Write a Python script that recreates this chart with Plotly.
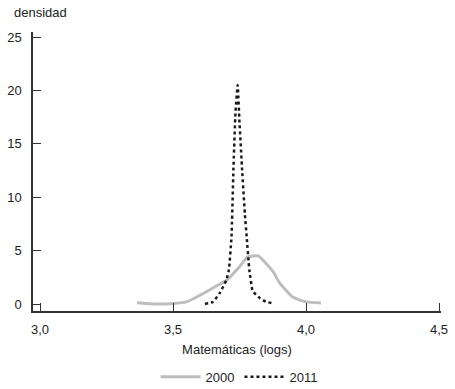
import plotly.graph_objects as go

# Data
x2000 = [3.365, 3.40, 3.44, 3.50, 3.55, 3.60, 3.65, 3.70, 3.75, 3.78, 3.80, 3.82, 3.85, 3.88, 3.90, 3.95, 4.00, 4.056]
y2000 = [0.12, 0.05, 0.0, 0.05, 0.2, 0.8, 1.5, 2.2, 3.5, 4.4, 4.5, 4.5, 3.8, 2.9, 2.0, 0.65, 0.2, 0.1]

x2011 = [3.62, 3.65, 3.675, 3.70, 3.71, 3.72, 3.727, 3.735, 3.743, 3.75, 3.76, 3.77, 3.777, 3.787, 3.80, 3.827, 3.85, 3.87]
y2011 = [0.0, 0.2, 1.0, 2.2, 3.2, 6.3, 12.5, 18.0, 20.5, 17.0, 12.5, 8.5, 6.3, 3.2, 1.2, 0.55, 0.2, 0.1]

xticks = [3.0, 3.5, 4.0, 4.5]
xtick_labels = ["3,0", "3,5", "4,0", "4,5"]
yticks = [0, 5, 10, 15, 20, 25]

FONT = "Liberation Sans Narrow, Arial Narrow, Liberation Sans, sans-serif"
FS = 13

fig = go.Figure()
fig.add_trace(go.Scatter(x=x2000, y=y2000, mode="lines", name="2000",
                         line=dict(color="#bdbdbd", width=3, shape="spline", smoothing=0.5)))
fig.add_trace(go.Scatter(x=x2011, y=y2011, mode="lines", name="2011",
                         line=dict(color="#1a1a1a", width=2.5, dash="dot", shape="spline", smoothing=0.4)))

fig.update_layout(
    width=455, height=389,
    margin=dict(l=33, r=14, t=32, b=78, autoexpand=False),
    paper_bgcolor="white", plot_bgcolor="white",
    font=dict(family=FONT, size=FS, color="#222"),
    showlegend=True,
    legend=dict(orientation="h", x=0.505, xanchor="center", y=-0.236, yanchor="middle",
                font=dict(size=FS), itemwidth=40),
    xaxis=dict(range=[2.9737, 4.5075], tickvals=xticks, ticktext=xtick_labels,
               ticks="inside", ticklen=8, tickwidth=1.3, tickcolor="#333",
               showline=True, linecolor="#333", linewidth=1.5,
               showgrid=False, zeroline=False, automargin=False, ticklabelstandoff=6,
               title=dict(text="Matemáticas (logs)", standoff=9, font=dict(size=FS))),
    yaxis=dict(range=[-0.655, 25.47], tickvals=yticks,
               ticks="inside", ticklen=8, tickwidth=1.3, tickcolor="#333",
               showline=True, linecolor="#333", linewidth=1.5,
               showgrid=False, zeroline=False, automargin=False, ticklabelstandoff=7),
    annotations=[dict(text="densidad", xref="paper", yref="paper",
                      x=-21/408, y=1 + 19/279, xanchor="left", yanchor="middle",
                      showarrow=False, font=dict(size=FS))],
)

fig.write_html("out.html", config={"displayModeBar": False},
               post_script="document.body.style.margin='0';")
